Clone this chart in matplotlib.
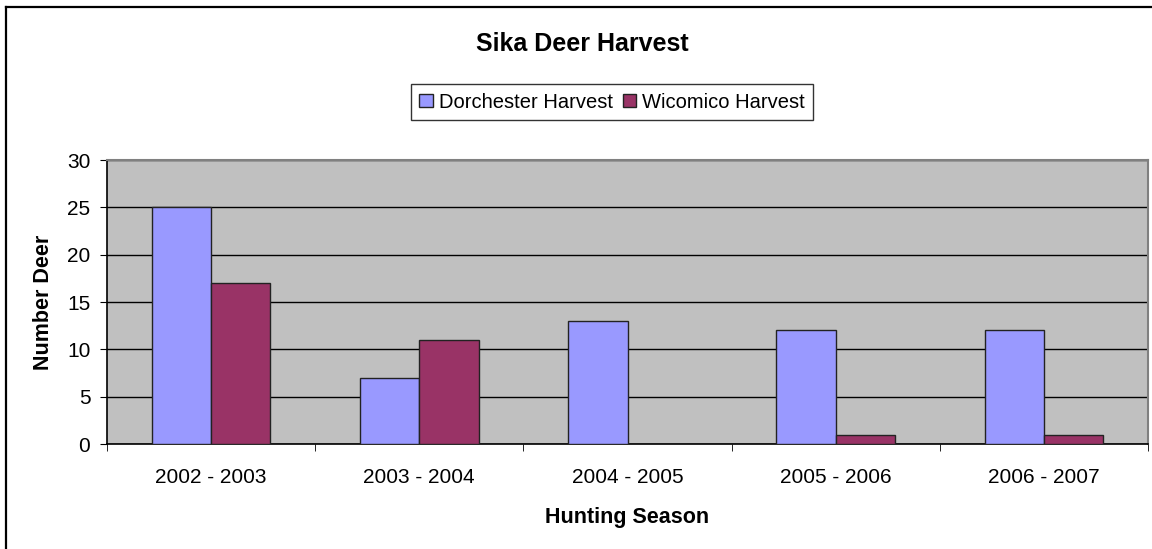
import numpy as np
import matplotlib.pyplot as plt
from matplotlib.lines import Line2D

plt.rcParams['font.family'] = ['Liberation Sans', 'DejaVu Sans']

seasons = ["2002 - 2003", "2003 - 2004", "2004 - 2005", "2005 - 2006", "2006 - 2007"]
dorchester = [25, 7, 13, 12, 12]
wicomico = [17, 11, 0, 1, 1]

W, H = 1152, 549
fig = plt.figure(figsize=(W / 100, H / 100), dpi=100)

# outer chart frame (cut off at right and bottom in the original)
fig.add_artist(Line2D([6/W, 1.0], [1 - 7/H, 1 - 7/H], transform=fig.transFigure, color='black', linewidth=1.6))
fig.add_artist(Line2D([6/W, 6/W], [0.0, 1 - 7/H], transform=fig.transFigure, color='black', linewidth=1.6))

ax = fig.add_axes([107/W, 1 - 444/H, 1041/W, 284/H])
ax.set_facecolor('#C0C0C0')

x = np.arange(len(seasons))
w = 0.285
ax.bar(x - w/2, dorchester, w, color='#9999FF', edgecolor='#222222', linewidth=1, label='Dorchester Harvest', zorder=3)
ax.bar(x + w/2, wicomico, w, color='#993366', edgecolor='#222222', linewidth=1, label='Wicomico Harvest', zorder=3)

ax.set_xlim(-0.5, len(seasons) - 0.5)
ax.set_ylim(0, 30)
ax.set_yticks(range(0, 31, 5))
ax.set_xticks(x)
ax.set_xticklabels(seasons)
ax.set_xticks(np.arange(-0.5, len(seasons), 1), minor=True)
ax.tick_params(axis='x', which='major', length=0, pad=17, labelsize=15)
ax.tick_params(axis='x', which='minor', length=5, direction='out', color='black')
ax.tick_params(axis='y', length=5, direction='out', labelsize=15, pad=7)
ax.grid(axis='y', color='black', linewidth=1, zorder=1)

for side in ['top', 'right']:
    ax.spines[side].set_color('#808080')
    ax.spines[side].set_linewidth(1.5)
for side in ['left', 'bottom']:
    ax.spines[side].set_color('black')
    ax.spines[side].set_linewidth(1.2)

ax.set_xlabel('Hunting Season', fontsize=15.5, fontweight='bold', labelpad=15)
ax.set_ylabel('Number Deer', fontsize=15.5, fontweight='bold', labelpad=9)
fig.text(582/W, 1 - 44/H, 'Sika Deer Harvest', ha='center', va='center', fontsize=18, fontweight='bold')

leg = ax.legend(loc='center', bbox_to_anchor=(612/W, 1 - 102/H), bbox_transform=fig.transFigure,
                ncol=2, fontsize=14.5, frameon=True, fancybox=False, edgecolor='black',
                handlelength=0.65, handleheight=0.65, handletextpad=0.3, columnspacing=0.5,
                borderpad=0.4, borderaxespad=0)
leg.get_frame().set_linewidth(1)

fig.savefig('out.png', dpi=100)
